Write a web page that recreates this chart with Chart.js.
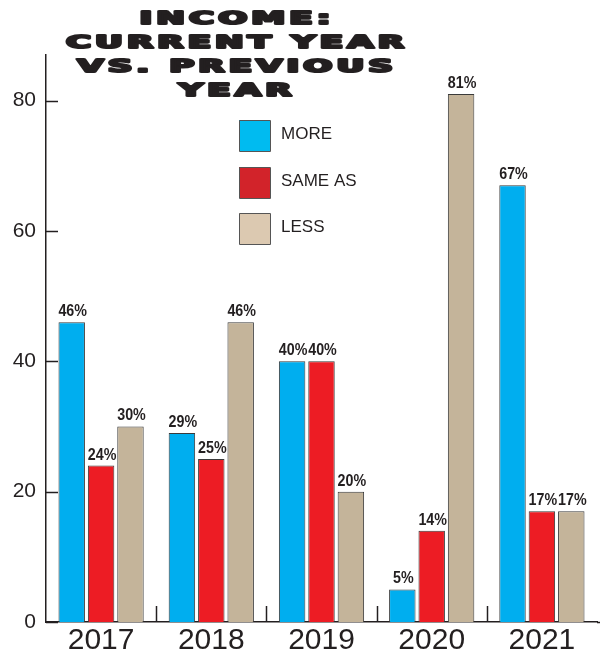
<!DOCTYPE html>
<html>
<head>
<meta charset="utf-8">
<script src="https://cdn.jsdelivr.net/npm/chart.js@4/dist/chart.umd.min.js"></script>
<style>
  body { margin: 0; background: #fff; }
</style>
</head>
<body>
<canvas id="chart" width="600" height="652"></canvas>
<script>
// data
const years = ['2017', '2018', '2019', '2020', '2021'];
const more = [46, 29, 40, 5, 67];
const same = [24, 25, 40, 14, 17];
const less = [30, 46, 20, 81, 17];
const seriesNames = ['MORE', 'SAME AS', 'LESS'];
const yTicks = [0, 20, 40, 60, 80];
const titleLines = ['INCOME:', 'CURRENT YEAR', 'VS. PREVIOUS', 'YEAR'];

const ink = '#231F20';
const barColors = ['#00AEEF', '#ED1C24', '#C4B49A'];
const legendColors = ['#00BBF0', '#D2232A', '#DCC9B1'];

// title, legend, ticks drawn by hand on top of the chart
const decorations = {
  id: 'decorations',
  afterDatasetsDraw(chart) {
    const ctx = chart.ctx;
    ctx.save();
    ctx.fillStyle = ink;
    ctx.textAlign = 'center';
    ctx.textBaseline = 'alphabetic';
    chart.data.datasets.forEach((ds, i) => {
      chart.getDatasetMeta(i).data.forEach((el, j) => {
        const txt = ds.data[j] + '%';
        ctx.save();
        ctx.translate(el.x + 1, el.y - 6);
        ctx.scale(0.84, 1);
        ctx.font = 'bold 17px "Liberation Sans", Arial, sans-serif';
        ctx.fillText(txt, 0, 0);
        ctx.restore();
      });
    });
    ctx.restore();
  },
  afterDraw(chart) {
    const ctx = chart.ctx;
    const x = chart.scales.x;
    const y = chart.scales.y;
    const area = chart.chartArea;
    ctx.save();
    ctx.strokeStyle = ink;
    ctx.lineWidth = 1.5;

    // y ticks pointing inward
    yTicks.forEach(v => {
      const py = Math.round(y.getPixelForValue(v)) + 0.5;
      ctx.beginPath();
      ctx.moveTo(area.left, py);
      ctx.lineTo(area.left + 12, py);
      ctx.stroke();
    });
    // separators between year groups
    for (let i = 0; i < years.length - 1; i++) {
      const px = Math.round((x.getPixelForValue(i) + x.getPixelForValue(i + 1)) / 2) + 0.5;
      ctx.beginPath();
      ctx.moveTo(px, area.bottom);
      ctx.lineTo(px, area.bottom - 16);
      ctx.stroke();
    }
    // axis runs a little past the last group
    ctx.beginPath();
    ctx.moveTo(area.right, area.bottom + 0.5);
    ctx.lineTo(600, area.bottom + 0.5);
    ctx.stroke();

    // title
    ctx.fillStyle = ink;
    ctx.strokeStyle = ink;
    ctx.lineWidth = 2.2;
    ctx.lineJoin = 'round';
    ctx.textAlign = 'center';
    ctx.textBaseline = 'alphabetic';
    ctx.font = 'bold 17px "DejaVu Sans", sans-serif';
    ctx.letterSpacing = '2px';
    const sx = 342 / ctx.measureText('CURRENT YEAR').width;
    const baselines = [24, 48, 72, 96];
    titleLines.forEach((line, i) => {
      ctx.save();
      ctx.translate(237, baselines[i]);
      ctx.scale(sx, 1);
      ctx.fillText(line, 0, 0);
      ctx.strokeText(line, 0, 0);
      ctx.restore();
    });
    ctx.letterSpacing = '0px';

    // legend
    ctx.textAlign = 'left';
    ctx.textBaseline = 'middle';
    ctx.font = '17px "Liberation Sans", Arial, sans-serif';
    const boxTops = [120, 167, 213];
    seriesNames.forEach((name, i) => {
      ctx.fillStyle = legendColors[i];
      ctx.fillRect(239, boxTops[i], 31, 31);
      ctx.strokeStyle = '#555';
      ctx.lineWidth = 1;
      ctx.strokeRect(239.5, boxTops[i] + 0.5, 31, 31);
      ctx.fillStyle = ink;
      ctx.fillText(name, 281, boxTops[i] + 14);
    });
    ctx.restore();
  }
};

const seriesData = [more, same, less];

new Chart(document.getElementById('chart'), {
  type: 'bar',
  data: {
    labels: years,
    datasets: seriesNames.map((name, i) => ({
      label: name,
      data: seriesData[i],
      backgroundColor: barColors[i],
      borderColor: '#3a3a3a',
      borderWidth: 1,
      categoryPercentage: 0.8,
      barPercentage: 0.9
    }))
  },
  options: {
    responsive: false,
    animation: false,
    layout: { padding: { top: 55, right: 3, left: 0, bottom: 0 } },
    plugins: {
      legend: { display: false },
      tooltip: { enabled: false }
    },
    scales: {
      x: {
        grid: { display: false },
        border: { display: true, color: ink, width: 1.5 },
        ticks: {
          color: ink,
          padding: -7,
          font: { family: '"Liberation Sans", Arial, sans-serif', size: 30 }
        },
        afterFit(scale) { scale.height = 30; }
      },
      y: {
        min: 0,
        max: 87,
        afterBuildTicks(scale) { scale.ticks = yTicks.map(v => ({ value: v })); },
        grid: { display: false, drawTicks: false },
        border: { display: true, color: ink, width: 1.5 },
        ticks: {
          color: ink,
          padding: 10,
          font: { family: '"Liberation Sans", Arial, sans-serif', size: 21 }
        },
        afterFit(scale) { scale.width = 46; }
      }
    }
  },
  plugins: [decorations]
});
</script>
</body>
</html>
